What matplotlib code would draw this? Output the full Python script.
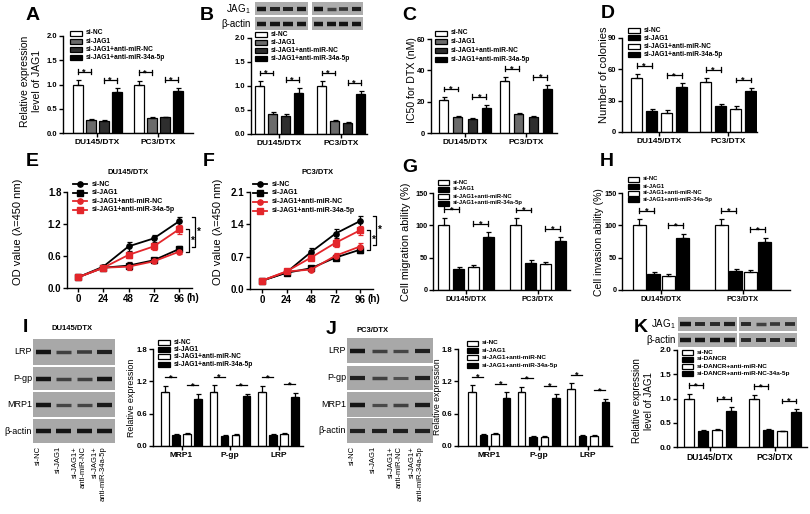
import matplotlib
matplotlib.use('Agg')
import matplotlib.pyplot as plt
from matplotlib.patches import Rectangle
from matplotlib.lines import Line2D

plt.rcParams['font.family'] = ['Liberation Sans', 'DejaVu Sans']
plt.rcParams['font.weight'] = 'bold'
plt.rcParams['mathtext.default'] = 'regular'

# ------------------------------------------------------------------
# data
cell_lines = ['DU145/DTX', 'PC3/DTX']
resist_genes = ['MRP1', 'P-gp', 'LRP']
grp_jag1 = ['si-NC', 'si-JAG1', 'si-JAG1+anti-miR-NC', 'si-JAG1+anti-miR-34a-5p']
grp_dancr = ['si-NC', 'si-DANCR', 'si-DANCR+anti-miR-NC', 'si-DANCR+anti-miR-NC-34a-5p']
hours = [0, 24, 48, 72, 96]

# A  JAG1 mRNA
jag1_mrna = [[1.00, 0.26, 0.24, 0.85], [1.00, 0.30, 0.32, 0.87]]
jag1_mrna_err = [[0.09, 0.02, 0.02, 0.07], [0.08, 0.02, 0.02, 0.06]]
# B  JAG1 protein
jag1_prot = [[1.00, 0.42, 0.38, 0.86], [1.00, 0.27, 0.23, 0.83]]
jag1_prot_err = [[0.10, 0.03, 0.03, 0.10], [0.10, 0.02, 0.02, 0.07]]
# C  IC50
ic50 = [[21, 10, 9, 16], [33, 12, 10, 28]]
ic50_err = [[2.0, 0.8, 0.8, 2.0], [3.0, 1.0, 1.0, 2.5]]
# D  colonies
colonies = [[52, 20, 18, 43], [48, 25, 22, 39]]
colonies_err = [[4, 2, 3, 3.5], [4, 2, 3, 3]]
# E  CCK-8 DU145/DTX
du_nc = [0.20, 0.40, 0.78, 0.93, 1.25]
du_nc_err = [0.02, 0.03, 0.08, 0.07, 0.08]
du_jag1 = [0.20, 0.38, 0.42, 0.52, 0.73]
du_jag1_err = [0.02, 0.03, 0.06, 0.05, 0.06]
du_anc = [0.20, 0.38, 0.40, 0.50, 0.68]
du_anc_err = [0.02, 0.03, 0.06, 0.04, 0.05]
du_a34 = [0.20, 0.38, 0.62, 0.78, 1.10]
du_a34_err = [0.02, 0.03, 0.06, 0.06, 0.08]
# F  CCK-8 PC3/DTX
pc_nc = [0.18, 0.36, 0.80, 1.20, 1.47]
pc_nc_err = [0.02, 0.03, 0.08, 0.10, 0.12]
pc_jag1 = [0.18, 0.35, 0.45, 0.68, 0.85]
pc_jag1_err = [0.02, 0.02, 0.03, 0.05, 0.08]
pc_anc = [0.18, 0.38, 0.42, 0.72, 0.92]
pc_anc_err = [0.02, 0.03, 0.04, 0.06, 0.08]
pc_a34 = [0.18, 0.38, 0.68, 1.00, 1.27]
pc_a34_err = [0.02, 0.03, 0.06, 0.08, 0.10]
# G  migration
migration = [[100, 32, 35, 82], [100, 42, 40, 76]]
migration_err = [[12, 4, 3, 8], [11, 5, 4, 6]]
# H  invasion
invasion = [[100, 25, 22, 80], [100, 30, 28, 75]]
invasion_err = [[10, 2.5, 3, 7], [10, 3, 3, 6]]
# I  DU145/DTX resistance genes
du_resist = [[1.0, 0.20, 0.23, 0.88], [1.0, 0.18, 0.20, 0.92], [1.0, 0.20, 0.22, 0.91]]
du_resist_err = [[0.12, 0.02, 0.02, 0.09], [0.13, 0.02, 0.02, 0.05], [0.12, 0.02, 0.02, 0.08]]
# J  PC3/DTX resistance genes
pc_resist = [[1.0, 0.20, 0.23, 0.90], [1.0, 0.16, 0.17, 0.90], [1.05, 0.18, 0.19, 0.82]]
pc_resist_err = [[0.13, 0.02, 0.02, 0.10], [0.10, 0.02, 0.02, 0.06], [0.12, 0.02, 0.02, 0.06]]
# K  JAG1 after si-DANCR
dancr_jag1 = [[1.00, 0.32, 0.35, 0.75], [1.00, 0.36, 0.32, 0.72]]
dancr_jag1_err = [[0.10, 0.04, 0.02, 0.07], [0.08, 0.02, 0.02, 0.06]]

# western blot band strengths (0..1), one list per lane row
blot_b_jag1 = [[1.0, 0.85, 0.85, 0.95], [1.0, 0.6, 0.7, 0.9]]
blot_b_actin = [[1.0, 1.0, 1.0, 1.0], [1.0, 1.0, 1.0, 1.0]]
blot_i = {'LRP': [1.0, 0.6, 0.65, 0.9], 'P-gp': [1.0, 0.6, 0.6, 1.0],
          'MRP1': [1.0, 0.55, 0.55, 0.95], 'β-actin': [1.0, 1.0, 1.0, 1.0]}
blot_j = {'LRP': [1.0, 0.6, 0.55, 0.9], 'P-gp': [0.9, 0.6, 0.45, 0.9],
          'MRP1': [1.0, 0.5, 0.6, 0.95], 'β-actin': [0.9, 0.9, 0.9, 0.9]}
blot_k_jag1 = [[1.0, 0.8, 0.8, 0.9], [0.8, 0.6, 0.7, 0.75]]
blot_k_actin = [[1.0, 1.0, 1.0, 1.0], [0.8, 0.8, 0.8, 0.8]]
lane_names = ['si-NC', 'si-JAG1', 'si-JAG1+\nanti-miR-NC', 'si-JAG1+\nanti-miR-34a-5p']

gray4 = ['white', '#6b6b6b', '#2e2e2e', 'black']
bw4 = ['white', 'black', 'white', 'black']
red = '#e3262b'

# ------------------------------------------------------------------
W, H = 810, 514
fig = plt.figure(figsize=(W / 100, H / 100), dpi=100)


def fx(x):
    return x / W


def fy(y):
    return 1 - y / H


def px_axes(x0, y0, x1, y1):
    return fig.add_axes([fx(x0), fy(y1), (x1 - x0) / W, (y1 - y0) / H])


def style(ax, fs):
    for s in ['top', 'right']:
        ax.spines[s].set_visible(False)
    for s in ['left', 'bottom']:
        ax.spines[s].set_linewidth(1.0)
    ax.tick_params(width=1.0, length=3, labelsize=fs, pad=1)


def star(ax, x, y, fs=6.5):
    ax.annotate('*', (x, y), xytext=(0, -2), textcoords='offset points',
                ha='center', va='baseline', fontsize=fs, annotation_clip=False)


def bar_legend(x, y, labels, colors, fs, dy, pw=12, ph=5, gap=4):
    for i, lab in enumerate(labels):
        yc = y + i * dy
        fig.add_artist(Rectangle((fx(x), fy(yc + ph / 2)), pw / W, ph / H,
                                 transform=fig.transFigure, facecolor=colors[i],
                                 edgecolor='black', linewidth=0.9))
        fig.text(fx(x + pw + gap), fy(yc), lab, fontsize=fs, va='center', ha='left')


def line_legend(x, y, labels, colors, markers, fs, dy, pw=14, gap=5):
    for i, lab in enumerate(labels):
        yc = y + i * dy
        fig.add_artist(Line2D([fx(x), fx(x + pw / 2), fx(x + pw)], [fy(yc)] * 3,
                              transform=fig.transFigure, color=colors[i], lw=1.3,
                              marker=markers[i], markersize=3.8, markevery=[1]))
        fig.text(fx(x + pw + gap), fy(yc), lab, fontsize=fs, va='center', ha='left')


def bar_panel(box, centers, step, width, means, errs, colors, ymax, yticks, ylabels,
              cats, tick_fs=5.5, cat_fs=6, ticks=True):
    ax = px_axes(*box)
    ppu = centers[1] - centers[0]
    n = len(means)
    xpos = [[g + (i - 1.5) * step / ppu for g in range(n)] for i in range(4)]
    for i in range(4):
        hs = [m[i] for m in means]
        es = [e[i] for e in errs]
        ax.bar(xpos[i], hs, width / ppu, color=colors[i], edgecolor='black',
               linewidth=0.9, zorder=2)
        ax.errorbar(xpos[i], hs, yerr=[[0] * n, es], fmt='none', ecolor='black',
                    elinewidth=0.9, capsize=1.8, capthick=0.9, zorder=3)
    ax.set_xlim((box[0] - centers[0]) / ppu, (box[2] - centers[0]) / ppu)
    ax.set_ylim(0, ymax)
    ax.set_yticks(yticks)
    ax.set_yticklabels(ylabels)
    ax.set_xticks(range(n))
    ax.set_xticklabels(cats, fontsize=cat_fs)
    style(ax, tick_fs)
    ax.tick_params(axis='x', labelsize=cat_fs)
    for g in range(n):
        for a, b in [(0, 1), (2, 3)]:
            top = max(means[g][a] + errs[g][a], means[g][b] + errs[g][b])
            y = top + 0.085 * ymax
            x1, x2 = xpos[a][g], xpos[b][g]
            ax.plot([x1, x2], [y, y], color='black', lw=0.9, zorder=4, clip_on=False)
            if ticks:
                d = 0.025 * ymax
                ax.plot([x1, x1], [y - d, y + d], color='black', lw=0.9, clip_on=False)
                ax.plot([x2, x2], [y - d, y + d], color='black', lw=0.9, clip_on=False)
            star(ax, (x1 + x2) / 2, y)
    return ax


def line_panel(box, x0px, x96px, series, errs, colors, markers, ymax, yticks, ylabels):
    ax = px_axes(*box)
    ppu = (x96px - x0px) / 96
    for s, e, c, m in zip(series, errs, colors, markers):
        ax.errorbar(hours, s, yerr=e, color=c, marker=m, markersize=3.8, lw=1.3,
                    elinewidth=0.9, capsize=1.8, capthick=0.9)
    ax.set_xlim((box[0] - x0px) / ppu, (box[2] - x0px) / ppu)
    ax.set_ylim(0, ymax)
    ax.set_yticks(yticks)
    ax.set_yticklabels(ylabels)
    ax.set_xticks(hours)
    style(ax, 7)
    fig.text(fx(x96px + 14), fy(box[3] + 10), '(h)', fontsize=7, ha='center', va='center')
    # significance brackets at 96 h
    nc, jag1, anc, a34 = [s[-1] for s in series]
    d = 3 / ppu
    inner = (min(jag1, anc), a34)
    outer = (min(jag1, anc) + 0.05 * ymax, nc + errs[0][-1])
    for k, (lo, hi) in enumerate([inner, outer]):
        xb = 96 + (10 + 6 * k) / ppu
        ax.plot([xb - d, xb, xb, xb - d], [lo, lo, hi, hi], color='black', lw=0.9,
                clip_on=False)
        ax.text(xb + 1.5 / ppu, (lo + hi) / 2, '*', fontsize=7, ha='left', va='center')
    return ax


def blot(box, bands, bg='#a9a9a9'):
    ax = px_axes(*box)
    ax.set_facecolor(bg)
    ax.set_xticks([])
    ax.set_yticks([])
    for s in ax.spines.values():
        s.set_visible(False)
    n = len(bands)
    ax.set_xlim(-0.5, n - 0.5)
    ax.set_ylim(0, 1)
    for i, b in enumerate(bands):
        ax.hlines(0.5, i - 0.36, i + 0.36, colors=str(round(0.5 - 0.42 * b, 2)),
                  linewidth=1.4 + 1.8 * b)
    return ax


def ylabel(x, y, txt, fs):
    fig.text(fx(x), fy(y), txt, rotation=90, ha='center', va='center', fontsize=fs,
             fontweight='normal')


def letter(x, y, txt):
    fig.text(fx(x), fy(y), txt, fontsize=14, fontweight='bold', ha='center', va='center')


# ------------------------------ A ------------------------------
bar_panel((63, 36, 193, 133), [97, 158], 13, 10, jag1_mrna, jag1_mrna_err, gray4,
          2.0, [0, 0.5, 1.0, 1.5, 2.0], ['0.0', '0.5', '1.0', '1.5', '2.0'], cell_lines)
bar_legend(70, 33, grp_jag1, gray4, 4.8, 8.3)
ylabel(31, 81, 'Relative expression\nlevel of JAG1', 7.5)
letter(33, 16, 'A')

# ------------------------------ B ------------------------------
bar_panel((251, 38, 367, 134), [279, 341], 13, 9, jag1_prot, jag1_prot_err, gray4,
          2.0, [0, 0.5, 1.0, 1.5, 2.0], ['0.0', '0.5', '1.0', '1.5', '2.0'], cell_lines)
bar_legend(255, 34, grp_jag1, gray4, 4.8, 8.3)
blot((255, 2, 308, 15), blot_b_jag1[0], '#adadad')
blot((312, 2, 363, 15), blot_b_jag1[1], '#adadad')
blot((255, 17, 308, 30), blot_b_actin[0], '#adadad')
blot((312, 17, 363, 30), blot_b_actin[1], '#adadad')
fig.text(fx(251), fy(9), 'JAG$_1$', fontsize=7, ha='right', va='center', fontweight='normal')
fig.text(fx(251), fy(24), 'β-actin', fontsize=7, ha='right', va='center', fontweight='normal')
letter(207, 15, 'B')

# ------------------------------ C ------------------------------
bar_panel((431, 39, 557, 133), [465, 526], 14.3, 9, ic50, ic50_err, gray4,
          60, [0, 20, 40, 60], ['0', '20', '40', '60'], cell_lines)
bar_legend(435, 33, grp_jag1, gray4, 4.8, 8.8)
ylabel(412, 80, 'IC50 for DTX (nM)', 7.6)
letter(409, 15, 'C')

# ------------------------------ D ------------------------------
bar_panel((622, 38, 757, 132), [659, 728], 15, 10.5, colonies, colonies_err, bw4,
          90, [0, 30, 60, 90], ['0', '30', '60', '90'], cell_lines)
bar_legend(628, 30, grp_jag1, bw4, 4.8, 8)
ylabel(604, 75, 'Number of colonies', 8)
letter(608, 13, 'D')

# ------------------------------ E ------------------------------
line_panel((67, 192, 192, 288), 78, 179, [du_nc, du_jag1, du_anc, du_a34],
           [du_nc_err, du_jag1_err, du_anc_err, du_a34_err],
           ['black', 'black', red, red], ['o', 's', 'o', 's'],
           1.8, [0, 0.6, 1.2, 1.8], ['0.0', '0.6', '1.2', '1.8'])
line_legend(73, 184, grp_jag1, ['black', 'black', red, red], ['o', 's', 'o', 's'], 5, 8.6)
fig.text(fx(128), fy(173), 'DU145/DTX', fontsize=5.5, ha='center', va='center')
ylabel(18, 232, 'OD value (λ=450 nm)', 8)
letter(32, 162, 'E')

# ------------------------------ F ------------------------------
line_panel((250, 192, 373, 289), 262, 360, [pc_nc, pc_jag1, pc_anc, pc_a34],
           [pc_nc_err, pc_jag1_err, pc_anc_err, pc_a34_err],
           ['black', 'black', red, red], ['o', 's', 'o', 's'],
           2.1, [0, 0.7, 1.4, 2.1], ['0.0', '0.7', '1.4', '2.1'])
line_legend(253, 184, grp_jag1, ['black', 'black', red, red], ['o', 's', 'o', 's'], 5, 8.9)
fig.text(fx(318), fy(173), 'PC3/DTX', fontsize=5.5, ha='center', va='center')
ylabel(218, 232, 'OD value (λ=450 nm)', 8)
letter(209, 162, 'F')

# ------------------------------ G ------------------------------
bar_panel((433, 193, 570, 290), [466, 538], 14.7, 11, migration, migration_err, bw4,
          150, [0, 50, 100, 150], ['0', '50', '100', '150'], cell_lines, tick_fs=5.2,
          cat_fs=5.5)
bar_legend(438, 182, grp_jag1, bw4, 4.2, 7, pw=11)
ylabel(406, 242, 'Cell migration ability (%)', 7.8)
letter(410, 168, 'G')

# ------------------------------ H ------------------------------
bar_panel((622, 193, 790, 290), [661, 743], 14.5, 13, invasion, invasion_err, bw4,
          150, [0, 50, 100, 150], ['0', '50', '100', '150'], cell_lines, tick_fs=5.2,
          cat_fs=5.5)
bar_legend(628, 179, grp_jag1, bw4, 4.2, 7, pw=11)
ylabel(599, 242, 'Cell invasion ability (%)', 7.5)
letter(607, 162, 'H')

# ------------------------------ I ------------------------------
bar_panel((153, 349, 303, 446), [181.5, 230], 11, 7.5, du_resist, du_resist_err, bw4,
          1.8, [0, 0.6, 1.2, 1.8], ['0.0', '0.6', '1.2', '1.8'], resist_genes,
          tick_fs=5.6, ticks=False)
bar_legend(158, 342, grp_jag1, bw4, 4.8, 7.4)
ylabel(131, 398, 'Relative expression', 6.4)
rows = [(339, 365), (367, 390), (392, 417), (419, 443)]
for (y0, y1), (name, bands) in zip(rows, blot_i.items()):
    blot((33, y0, 115, y1), bands, '#a8a8a8')
    fig.text(fx(32), fy((y0 + y1) / 2), name, fontsize=6.5, ha='right', va='center',
             fontweight='normal')
for k, lab in enumerate(lane_names):
    fig.text(fx(38 + 20.5 * k), fy(446), lab, rotation=90, ha='center', va='top',
             fontsize=5.5, fontweight='normal', multialignment='right')
fig.text(fx(72), fy(329), 'DU145/DTX', fontsize=5.5, ha='center', va='center')
letter(25, 327, 'I')

# ------------------------------ J ------------------------------
bar_panel((458, 349, 612, 446), [489, 538.5], 11.5, 7.5, pc_resist, pc_resist_err, bw4,
          1.8, [0, 0.6, 1.2, 1.8], ['0.0', '0.6', '1.2', '1.8'], resist_genes,
          tick_fs=5.6, ticks=False)
bar_legend(467, 343, grp_jag1, bw4, 4.6, 7.4, pw=11)
ylabel(437, 397, 'Relative expression', 6.3)
rows = [(338, 363), (366, 390), (392, 417), (418, 443)]
for (y0, y1), (name, bands) in zip(rows, blot_j.items()):
    blot((347, y0, 433, y1), bands, '#a8a8a8')
    fig.text(fx(346), fy((y0 + y1) / 2), name, fontsize=6.5, ha='right', va='center',
             fontweight='normal')
for k, lab in enumerate(lane_names):
    fig.text(fx(352 + 21.5 * k), fy(446), lab, rotation=90, ha='center', va='top',
             fontsize=5.5, fontweight='normal', multialignment='right')
fig.text(fx(373), fy(331), 'PC3/DTX', fontsize=5.5, ha='center', va='center')
letter(331, 330, 'J')

# ------------------------------ K ------------------------------
bar_panel((677, 350, 807, 447), [710, 775], 14, 9.5, dancr_jag1, dancr_jag1_err, bw4,
          2.0, [0, 0.5, 1.0, 1.5, 2.0], ['0.0', '0.5', '1.0', '1.5', '2.0'], cell_lines,
          tick_fs=6, cat_fs=6.2)
bar_legend(682, 352, grp_dancr, bw4, 4.6, 7, pw=11)
blot((678, 317, 737, 331), blot_k_jag1[0], '#adadad')
blot((739, 317, 797, 331), blot_k_jag1[1], '#adadad')
blot((678, 333, 737, 347), blot_k_actin[0], '#adadad')
blot((739, 333, 797, 347), blot_k_actin[1], '#adadad')
fig.text(fx(676), fy(324), 'JAG$_1$', fontsize=7, ha='right', va='center', fontweight='normal')
fig.text(fx(676), fy(340), 'β-actin', fontsize=7, ha='right', va='center', fontweight='normal')
ylabel(643, 401, 'Relative expression\nlevel of JAG1', 7)
letter(641, 328, 'K')

fig.savefig('out.png', dpi=100)
